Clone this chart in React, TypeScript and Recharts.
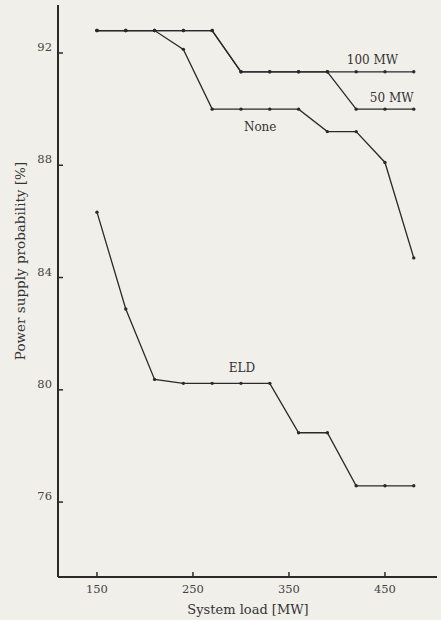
import { LineChart, Line, XAxis, YAxis, ReferenceDot } from "recharts";

// system load [MW]
const loads = [150, 180, 210, 240, 270, 300, 330, 360, 390, 420, 450, 480];

// power supply probability [%] per reserve setting
const mw100 = [92.8, 92.8, 92.8, 92.8, 92.8, 91.33, 91.33, 91.33, 91.33, 91.33, 91.33, 91.33];
const mw50 = [92.8, 92.8, 92.8, 92.8, 92.8, 91.33, 91.33, 91.33, 91.33, 90.0, 90.0, 90.0];
const none = [92.8, 92.8, 92.8, 92.13, 90.0, 90.0, 90.0, 90.0, 89.2, 89.2, 88.1, 84.7];
const eld = [86.33, 82.88, 80.37, 80.23, 80.23, 80.23, 80.23, 78.47, 78.47, 76.58, 76.58, 76.58];

const xTicks = [150, 250, 350, 450];
const yTicks = [76, 80, 84, 88, 92];

const seriesLabels = [
  { text: "100 MW", x: 437, y: 91.75 },
  { text: "50 MW", x: 457, y: 90.4 },
  { text: "None", x: 320, y: 89.36 },
  { text: "ELD", x: 301, y: 80.8 },
];

const data = loads.map((load, i) => ({
  load,
  mw100: mw100[i],
  mw50: mw50[i],
  none: none[i],
  eld: eld[i],
}));

const INK = "#2a2a2a";
const FONT = "'DejaVu Serif', serif";

const XTick = ({ x, y, payload }: any) => (
  <g>
    <line x1={x} x2={x} y1={y} y2={y - 5} stroke={INK} strokeWidth={1.5} />
    <text x={x} y={y + 16} textAnchor="middle" fontSize={11.5} fill="#444" fontFamily={FONT}>
      {payload.value}
    </text>
  </g>
);

const YTick = ({ x, y, payload }: any) => (
  <g>
    <line x1={x} x2={x + 5} y1={y} y2={y} stroke={INK} strokeWidth={1.5} />
    <text x={x - 6} y={y - 2} textAnchor="end" fontSize={11.5} fill="#444" fontFamily={FONT}>
      {payload.value}
    </text>
  </g>
);

const series = ["mw100", "mw50", "none", "eld"];

export default function App() {
  return (
    <div style={{ position: "absolute", left: 0, top: 0, width: 441, height: 620, background: "#f1efea" }}>
      <LineChart width={441} height={620} data={data} margin={{ top: 5, right: 4, left: 0, bottom: 0 }}>
        <XAxis
          dataKey="load"
          type="number"
          domain={[109.4, 504.2]}
          ticks={xTicks}
          height={43}
          tickSize={0}
          tickMargin={0}
          tickLine={false}
          tick={<XTick />}
          axisLine={{ stroke: INK, strokeWidth: 2 }}
          label={() => (
            <text x={248} y={614} textAnchor="middle" fontSize={13} fill="#333" fontFamily={FONT}>
              System load [MW]
            </text>
          )}
        />
        <YAxis
          type="number"
          domain={[73.33, 93.71]}
          ticks={yTicks}
          width={58}
          tickSize={0}
          tickMargin={0}
          tickLine={false}
          tick={<YTick />}
          axisLine={{ stroke: INK, strokeWidth: 2 }}
          label={() => (
            <text
              x={25}
              y={261}
              transform="rotate(-90 25 261)"
              textAnchor="middle"
              fontSize={13.5}
              fill="#333"
              fontFamily={FONT}
            >
              Power supply probability [%]
            </text>
          )}
        />
        {series.map((key) => (
          <Line
            key={key}
            dataKey={key}
            stroke={INK}
            strokeWidth={1.3}
            dot={{ r: 1.7, fill: INK, stroke: "none" }}
            isAnimationActive={false}
          />
        ))}
        {seriesLabels.map((s) => (
          <ReferenceDot
            key={s.text}
            x={s.x}
            y={s.y}
            r={0}
            fill="none"
            stroke="none"
            label={{ value: s.text, position: "center", fontSize: 12, fill: "#333", fontFamily: FONT }}
          />
        ))}
      </LineChart>
    </div>
  );
}
